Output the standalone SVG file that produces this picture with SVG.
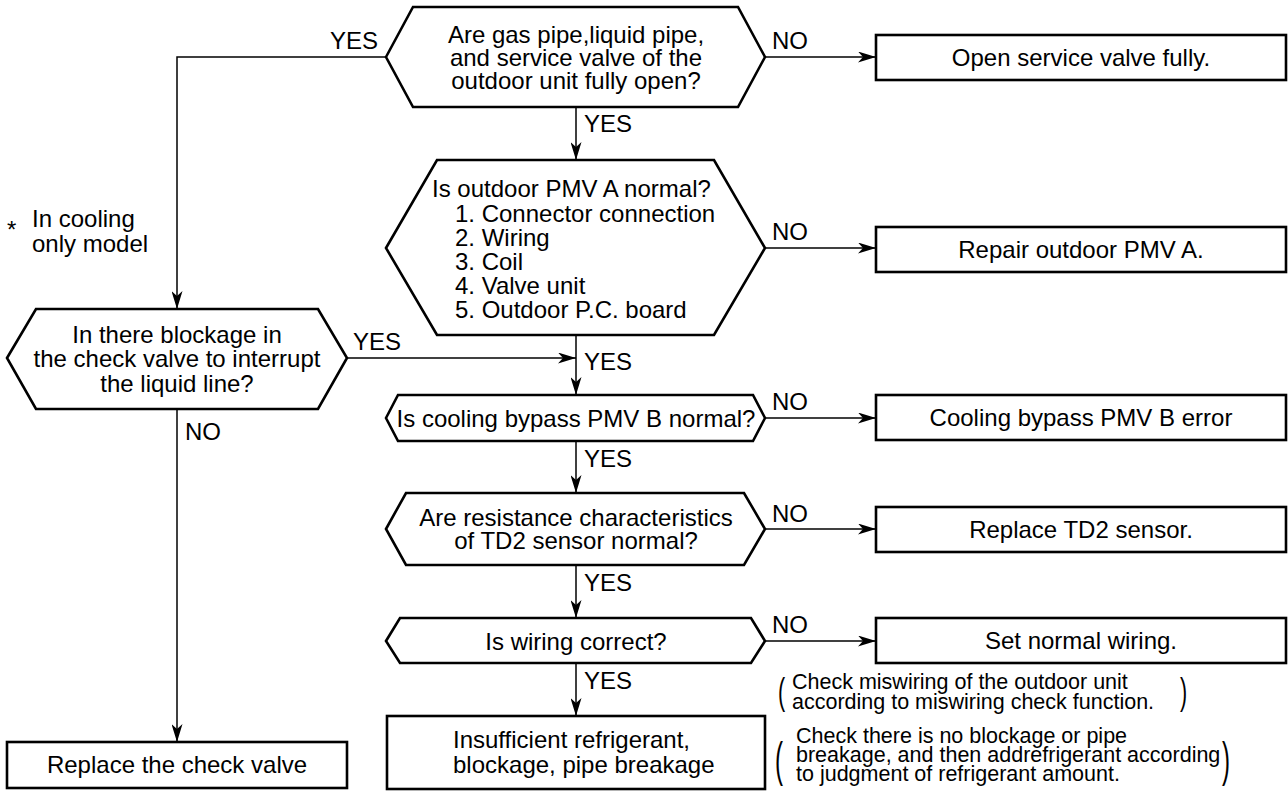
<svg xmlns="http://www.w3.org/2000/svg" width="1288" height="791" viewBox="0 0 1288 791">
<style>
.s{fill:#fff;stroke:#000;stroke-width:2.6;stroke-linejoin:miter}
.c{fill:none;stroke:#000;stroke-width:1.5}
text{font-family:"Liberation Sans",Arial,Helvetica,sans-serif;font-size:24px;fill:#000}
.m{text-anchor:middle}
.n{font-size:21.5px}
</style>
<defs>
<marker id="ah" viewBox="0 0 18 11" refX="18" refY="5.5" markerWidth="18" markerHeight="11" markerUnits="userSpaceOnUse" orient="auto">
<path d="M0,0 L18,5.5 L0,11 L5,5.5 z" fill="#000"/>
</marker>
</defs>
<g id="connectors">
<path class="c" d="M386,57 H177 V309" marker-end="url(#ah)"/>
<path class="c" d="M765,57 H876" marker-end="url(#ah)"/>
<path class="c" d="M576,107 V160" marker-end="url(#ah)"/>
<path class="c" d="M765,248 H876" marker-end="url(#ah)"/>
<path class="c" d="M576,335 V395" marker-end="url(#ah)"/>
<path class="c" d="M347,358 H576" marker-end="url(#ah)"/>
<path class="c" d="M177,409 V742" marker-end="url(#ah)"/>
<path class="c" d="M765,418 H876" marker-end="url(#ah)"/>
<path class="c" d="M576,441 V493" marker-end="url(#ah)"/>
<path class="c" d="M765,529 H876" marker-end="url(#ah)"/>
<path class="c" d="M576,565 V618" marker-end="url(#ah)"/>
<path class="c" d="M765,641 H876" marker-end="url(#ah)"/>
<path class="c" d="M576,663 V716" marker-end="url(#ah)"/>
<text x="330" y="49">YES</text>
<text x="772" y="49">NO</text>
<text x="584" y="132">YES</text>
<text x="772" y="240">NO</text>
<text x="353" y="350">YES</text>
<text x="584" y="370">YES</text>
<text x="185" y="440">NO</text>
<text x="772" y="410">NO</text>
<text x="584" y="467">YES</text>
<text x="772" y="522">NO</text>
<text x="584" y="591">YES</text>
<text x="772" y="633">NO</text>
<text x="584" y="689">YES</text>
</g>
<g id="q-valves">
<polygon class="s" points="386,57 413,7 738,7 765,57 738,107 413,107"/>
<text class="m" x="576" y="43">Are gas pipe,liquid pipe,</text>
<text class="m" x="576" y="66">and service valve of the</text>
<text class="m" x="576" y="89">outdoor unit fully open?</text>
</g>
<g id="open-valve">
<rect class="s" x="876" y="35" width="410" height="45"/>
<text class="m" x="1081" y="66">Open service valve fully.</text>
</g>
<g id="q-pmva">
<polygon class="s" points="386,248 437,160 714,160 765,248 714,335 437,335"/>
<text x="432" y="197">Is outdoor PMV A normal?</text>
<text x="455" y="222">1. Connector connection</text>
<text x="455" y="246">2. Wiring</text>
<text x="455" y="270">3. Coil</text>
<text x="455" y="294">4. Valve unit</text>
<text x="455" y="318">5. Outdoor P.C. board</text>
</g>
<g id="repair-pmva">
<rect class="s" x="876" y="227" width="410" height="45"/>
<text class="m" x="1081" y="258">Repair outdoor PMV A.</text>
</g>
<g id="note-cooling">
<text x="7" y="238" font-size="34">*</text>
<text x="32" y="227">In cooling</text>
<text x="32" y="252">only model</text>
</g>
<g id="q-check-valve">
<polygon class="s" points="7,358 36,309 318,309 347,358 318,409 36,409"/>
<text class="m" x="177" y="343">In there blockage in</text>
<text class="m" x="177" y="367">the check valve to interrupt</text>
<text class="m" x="177" y="392">the liquid line?</text>
</g>
<g id="replace-check-valve">
<rect class="s" x="7" y="742" width="340" height="46"/>
<text class="m" x="177" y="773">Replace the check valve</text>
</g>
<g id="q-pmvb">
<polygon class="s" points="386,418 398,395 753,395 765,418 753,441 398,441"/>
<text class="m" x="576" y="427">Is cooling bypass PMV B normal?</text>
</g>
<g id="pmvb-error">
<rect class="s" x="876" y="395" width="410" height="45"/>
<text class="m" x="1081" y="426">Cooling bypass PMV B error</text>
</g>
<g id="q-td2">
<polygon class="s" points="386,529 406,493 744,493 765,529 744,565 406,565"/>
<text class="m" x="576" y="526">Are resistance characteristics</text>
<text class="m" x="576" y="549">of TD2 sensor normal?</text>
</g>
<g id="replace-td2">
<rect class="s" x="876" y="507" width="410" height="45"/>
<text class="m" x="1081" y="538">Replace TD2 sensor.</text>
</g>
<g id="q-wiring">
<polygon class="s" points="386,641 400,618 751,618 765,641 751,663 400,663"/>
<text class="m" x="576" y="650">Is wiring correct?</text>
</g>
<g id="set-wiring">
<rect class="s" x="876" y="618" width="410" height="45"/>
<text class="m" x="1081" y="649">Set normal wiring.</text>
</g>
<g id="note-wiring">
<text class="n" transform="translate(778,704) scale(1,1.75)">(</text>
<text class="n" x="792" y="689">Check miswiring of the outdoor unit</text>
<text class="n" x="792" y="709">according to miswiring check function.</text>
<text class="n" transform="translate(1180,704) scale(1,1.75)">)</text>
</g>
<g id="insufficient">
<rect class="s" x="387" y="716" width="378" height="73"/>
<text x="453" y="748">Insufficient refrigerant,</text>
<text x="453" y="773">blockage, pipe breakage</text>
</g>
<g id="note-refrigerant">
<text transform="translate(775,776) scale(1,2)" font-size="26">(</text>
<text class="n" x="796" y="743">Check there is no blockage or pipe</text>
<text class="n" x="796" y="762">breakage, and then addrefrigerant according</text>
<text class="n" x="796" y="781">to judgment of refrigerant amount.</text>
<text transform="translate(1222,776) scale(1,2)" font-size="26">)</text>
</g>
</svg>
